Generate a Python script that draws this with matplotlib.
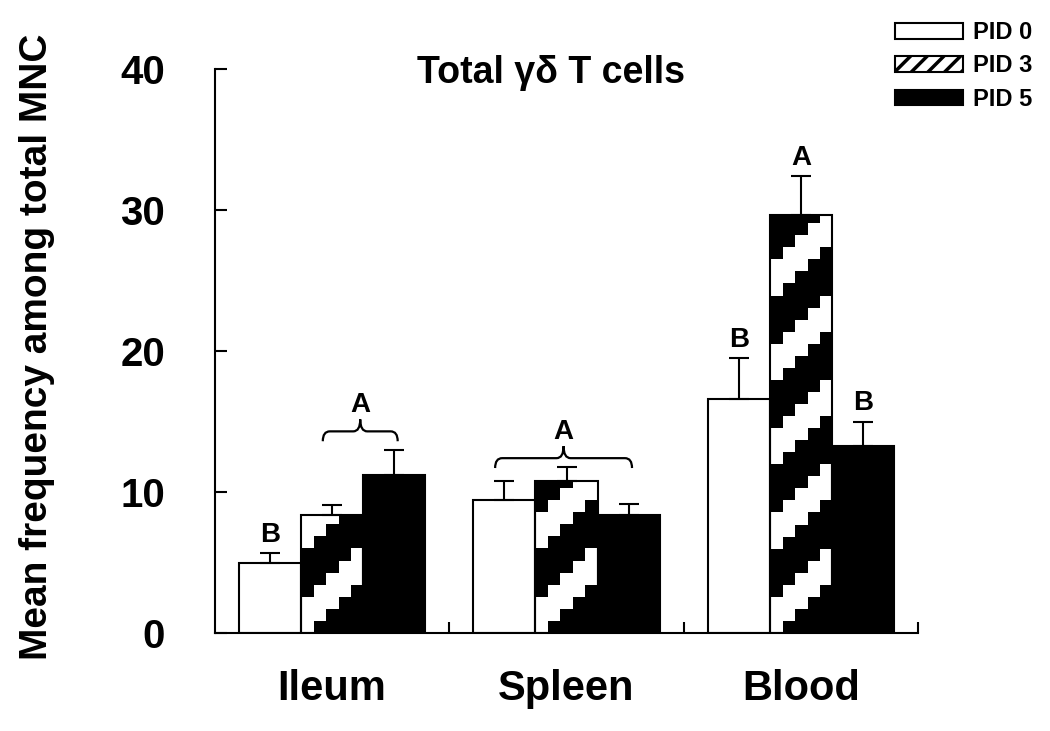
import numpy as np
import matplotlib
matplotlib.use("Agg")
import matplotlib.pyplot as plt
from matplotlib.patches import Patch, PathPatch
from matplotlib.path import Path

# values
groups = ["Ileum", "Spleen", "Blood"]
series = ["PID 0", "PID 3", "PID 5"]
pid0 = [5.0, 9.4, 16.6]
pid0_err = [0.65, 1.35, 2.87]
pid3 = [8.4, 10.8, 29.65]
pid3_err = [0.65, 0.95, 2.78]
pid5 = [11.2, 8.4, 13.25]
pid5_err = [1.8, 0.78, 1.75]

# significance letters: (group, series, letter)
letters = [(0, 0, "B"), (2, 0, "B"), (2, 1, "A"), (2, 2, "B")]
# braces: (group, first series, last series, level, letter)
braces = [(0, 1, 2, 14.3, "A"), (1, 0, 2, 12.4, "A")]

plt.rcParams["font.family"] = ["Liberation Sans", "DejaVu Sans"]
plt.rcParams["font.weight"] = "bold"
plt.rcParams["hatch.linewidth"] = 2.5

fig = plt.figure(figsize=(10.5, 7.31), dpi=100)
ax = fig.add_axes([215 / 1050, 1 - 633 / 731, 703 / 1050, 564 / 731])

x = np.arange(len(groups))
w = 0.2646
vals = [pid0, pid3, pid5]
errs = [pid0_err, pid3_err, pid5_err]
faces = ["white", "none", "black"]
offs = [-w, 0, w]

for k in range(3):
    bars = ax.bar(x + offs[k], vals[k], w, color=faces[k], edgecolor="black",
                  linewidth=1.5, zorder=2)
    ax.errorbar(x + offs[k], vals[k], yerr=[np.zeros(3), errs[k]], fmt="none",
                ecolor="black", elinewidth=1.5, capsize=7, capthick=1.5, zorder=3)
    if k == 1:
        # stair-stepped diagonal stripes inside PID 3 bars
        cell_h = 0.853
        for b in bars:
            h = b.get_height()
            ny = int(np.ceil(h / cell_h))
            j, i = np.indices((ny, 5))
            img = ((j - i) % 7 < 3).astype(float)
            xl = b.get_x()
            im = ax.imshow(img, cmap="gray", vmin=0, vmax=1, origin="lower",
                           interpolation="nearest", aspect="auto",
                           extent=(xl, xl + w, 0, ny * cell_h), zorder=1)
            im.set_clip_path(b)

for g, s, t in letters:
    top = vals[s][g] + errs[s][g]
    ax.annotate(t, (x[g] + offs[s], top), xytext=(0, 8), textcoords="offset points",
                ha="center", va="baseline", fontsize=20, fontweight="bold")

for g, s0, s1, lev, t in braces:
    x0 = x[g] + offs[s0] - 0.04
    x1 = x[g] + offs[s1] + 0.015
    xc = (x0 + x1) / 2
    r = 0.03
    yend = lev - 0.7
    ypk = lev + 0.85
    verts = [(x0, yend), (x0, lev), (x0 + r, lev), (xc - r, lev), (xc, lev), (xc, ypk),
             (xc, lev), (xc + r, lev), (x1 - r, lev), (x1, lev), (x1, yend)]
    codes = [Path.MOVETO, Path.CURVE3, Path.CURVE3, Path.LINETO, Path.CURVE3, Path.CURVE3,
             Path.CURVE3, Path.CURVE3, Path.LINETO, Path.CURVE3, Path.CURVE3]
    ax.add_patch(PathPatch(Path(verts, codes), fill=False, lw=1.6, color="black", zorder=3))
    ax.text(xc, lev + 1.35, t, ha="center", va="baseline", fontsize=20, fontweight="bold")

ax.set_xlim(-0.5, 2.5)
ax.set_ylim(0, 40)
ax.spines["top"].set_visible(False)
ax.spines["right"].set_visible(False)
ax.spines["left"].set_linewidth(1.5)
ax.spines["bottom"].set_linewidth(1.5)

ax.set_yticks([0, 10, 20, 30, 40])
ax.tick_params(axis="y", direction="in", length=8.5, width=1.5, pad=36, labelsize=29)
ax.set_xticks(x)
ax.set_xticklabels(groups)
ax.set_xticks([0.5, 1.5, 2.5], minor=True)
ax.tick_params(axis="x", which="major", length=0, pad=26, labelsize=30)
ax.tick_params(axis="x", which="minor", direction="in", length=8, width=1.5)
for lab in ax.get_xticklabels() + ax.get_yticklabels():
    lab.set_fontweight("bold")

fig.text(37 / 1050, 1 - 347 / 731, "Mean frequency among total MNC", rotation=90,
         ha="center", va="center", fontsize=28, fontweight="bold")
fig.text(551 / 1050, 1 - 83 / 731, "Total γδ T cells", ha="center", va="baseline",
         fontsize=27, fontweight="bold")

handles = [Patch(facecolor="white", edgecolor="black", linewidth=1.5),
           Patch(facecolor="white", edgecolor="black", linewidth=1.5, hatch="//"),
           Patch(facecolor="black", edgecolor="black", linewidth=1.5)]
ax.legend(handles, series, loc="upper left", bbox_to_anchor=(895 / 1050, 1 - 21 / 731),
          bbox_transform=fig.transFigure, frameon=False, borderpad=0, borderaxespad=0,
          prop={"size": 17, "weight": "bold"}, handlelength=2.88, handleheight=0.64,
          handletextpad=0.42, labelspacing=0.44)

fig.savefig("out.png", dpi=100)
